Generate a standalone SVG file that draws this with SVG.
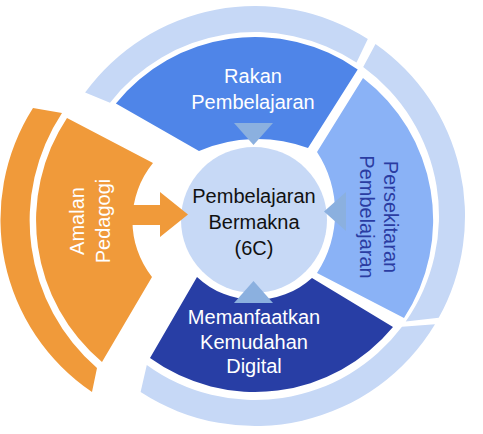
<svg xmlns="http://www.w3.org/2000/svg" width="483" height="434" viewBox="0 0 483 434">
<style>
.ring{fill:#C6D8F6}
.org{fill:#F09A3A}
.tri{fill:#8BB0DF}
.t{font-family:"Liberation Sans",Arial,sans-serif;font-size:20px;text-anchor:middle}
.w{fill:#FFFFFF}
.k{fill:#111111}
.db{fill:#2A3CA2}
</style>
<rect width="483" height="434" fill="#FFFFFF"/>
<g id="outer-ring">
<path class="ring" d="M85.1,92.6 A210,210 0 0 1 367.8,38.9 L356.5,62.6 A184,184 0 0 0 110,102.7 Z"/>
<path class="ring" d="M375.5,44 A210,210 0 0 1 438.7,317.8 L405.7,321.5 A184,184 0 0 0 363.2,67.1 Z"/>
<path class="ring" d="M435,324.2 A210,210 0 0 1 140.6,392.1 L146.8,364.9 A184,184 0 0 0 402,326.7 Z"/>
</g>
<g id="rakan">
<path fill="#4F85E8" d="M115.9,103.4 A179,179 0 0 1 357.7,69.4 L308,148 A147,147 0 0 0 199,151 Z"/>
<text class="t w" x="253" y="83">Rakan</text>
<text class="t w" x="253" y="109">Pembelajaran</text>
</g>
<g id="persekitaran">
<path fill="#8AB2F6" d="M363,78 A179,179 0 0 1 404,318 L317,273 A110,110 0 0 0 317,152 Z"/>
<g transform="translate(384,217) rotate(90)">
<text class="t db" x="0" y="0">Persekitaran</text>
<text class="t db" x="0" y="24">Pembelajaran</text>
</g>
</g>
<g id="memanfaatkan">
<path fill="#283EA5" d="M393,327 A179,179 0 0 1 150,358 L197,277 A85,85 0 0 0 312,278 Z"/>
<text class="t w" x="254" y="324">Memanfaatkan</text>
<text class="t w" x="254" y="348.5">Kemudahan</text>
<text class="t w" x="254" y="373">Digital</text>
</g>
<g id="amalan">
<path class="org" d="M92,392 A208,208 0 0 1 33,108 L62,113 A195,195 0 0 0 97,368 Z"/>
<path class="org" d="M102,362 A185,185 0 0 1 67,118 L153,163 A91,91 0 0 0 152,277 Z"/>
<g transform="translate(84,221) rotate(-90)">
<text class="t w" x="0" y="0">Amalan</text>
<text class="t w" x="0" y="26">Pedagogi</text>
</g>
</g>
<g id="center">
<circle cx="254" cy="220" r="73" fill="#C7D9F6"/>
<text class="t k" x="254" y="203">Pembelajaran</text>
<text class="t k" x="254" y="229">Bermakna</text>
<text class="t k" x="254" y="255">(6C)</text>
</g>
<g id="connectors">
<polygon class="tri" points="234,123 273,123 253.5,145"/>
<polygon class="tri" points="234,303 273,303 253.5,281"/>
<polygon class="tri" points="346,192 346,231 324,211.5"/>
<polygon class="org" points="128,205 160,205 160,192 188,214.5 160,237 160,225 128,225"/>
</g>
</svg>
